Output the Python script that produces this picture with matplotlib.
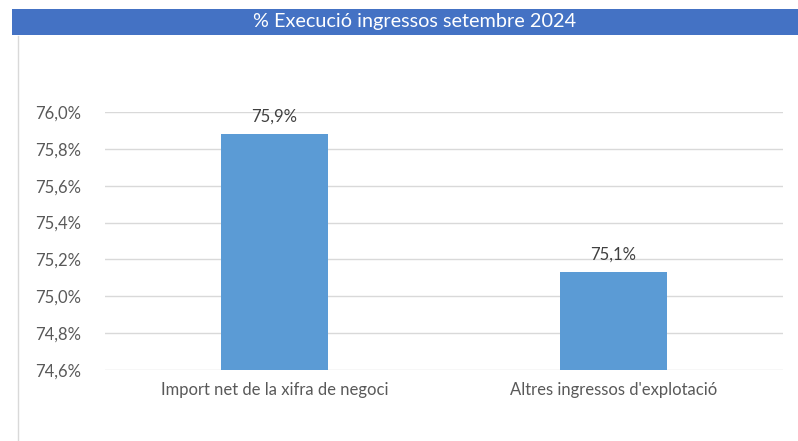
import matplotlib.pyplot as plt
from matplotlib.patches import Rectangle
from matplotlib.lines import Line2D

categories = ["Import net de la xifra de negoci", "Altres ingressos d'explotació"]
values = [75.88, 75.13]
labels = ["75,9%", "75,1%"]
yticks = [74.6, 74.8, 75.0, 75.2, 75.4, 75.6, 75.8, 76.0]
title = "% Execució ingressos setembre 2024"

W, H = 798, 441
fig = plt.figure(figsize=(W / 100, H / 100), dpi=100, facecolor="white")
plt.rcParams['font.family'] = ['Lato', 'DejaVu Sans']

# title banner
fig.patches.append(Rectangle((12 / W, 1 - 35 / H), 1 - 12 / W, 26 / H,
                             transform=fig.transFigure, facecolor="#4472C4",
                             edgecolor="none"))
fig.text(415 / W, 1 - 22 / H, title, ha="center", va="center",
         color="white", fontsize=14.3)
# chart area left border
fig.lines.append(Line2D([18 / W, 18 / W], [0, 1 - 36 / H],
                        transform=fig.transFigure, color="#D9D9D9", lw=1))

ax = fig.add_axes([105 / W, 1 - 370 / H, (783 - 105) / W, (370 - 112) / H])
x = range(len(categories))
ax.bar(x, values, width=0.315, color="#5B9BD5", zorder=2)
for xi, v, lab in zip(x, values, labels):
    ax.text(xi, v + 0.05, lab, ha="center", va="bottom", fontsize=12, color="#404040")

ax.set_xlim(-0.5, 1.5)
ax.set_ylim(74.6, 76.0)
ax.set_yticks(yticks)
ax.set_yticklabels([f"{t:.1f}%".replace(".", ",") for t in yticks])
ax.set_xticks(list(x))
ax.set_xticklabels(categories)
ax.tick_params(length=0, labelsize=12, labelcolor="#595959")
ax.tick_params(axis="y", pad=17)
ax.tick_params(axis="x", pad=9)
ax.grid(axis="y", color="#D9D9D9", lw=1, zorder=0)
for s in ax.spines.values():
    s.set_visible(False)

plt.savefig("out.png", dpi=100, facecolor="white")
